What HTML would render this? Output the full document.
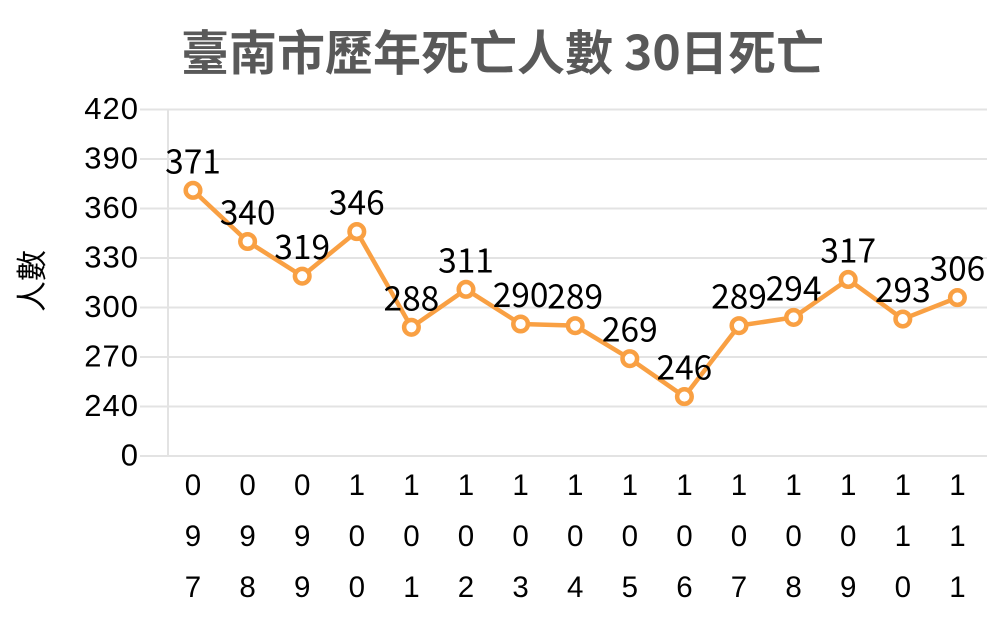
<!DOCTYPE html>
<html><head><meta charset="utf-8"><style>
html,body{margin:0;padding:0;background:#fff;}
svg{display:block;}
</style></head><body>
<svg width="1001" height="626" viewBox="0 0 1001 626" xmlns="http://www.w3.org/2000/svg">
<rect width="1001" height="626" fill="#fff"/>
<!-- title -->
<text y="70" font-family="'Noto Sans CJK TC',sans-serif" font-weight="bold" fill="#595959" font-size="48"><tspan x="181">臺南市歷年死亡人數</tspan><tspan x="624">30</tspan><tspan x="680">日死亡</tspan></text>
<!-- y axis title -->
<text transform="translate(43,281) rotate(-90)" text-anchor="middle" font-family="'Noto Sans CJK TC',sans-serif" font-size="31" fill="#000">人數</text>
<!-- gridlines -->
<g stroke="#e3e3e3" stroke-width="2">
<line x1="140" x2="987" y1="109.5" y2="109.5"/>
<line x1="140" x2="987" y1="159" y2="159"/>
<line x1="140" x2="987" y1="208.5" y2="208.5"/>
<line x1="140" x2="987" y1="258" y2="258"/>
<line x1="140" x2="987" y1="307.5" y2="307.5"/>
<line x1="140" x2="987" y1="357" y2="357"/>
<line x1="140" x2="987" y1="406.5" y2="406.5"/>
<line x1="140" x2="987" y1="456" y2="456"/>
<line x1="168" x2="168" y1="109" y2="457"/>
</g>
<!-- y tick labels -->
<g font-family="'Liberation Sans',sans-serif" font-size="31" fill="#000" text-anchor="end" letter-spacing="1">
<text x="139" y="119">420</text>
<text x="139" y="168.5">390</text>
<text x="139" y="218">360</text>
<text x="139" y="267.5">330</text>
<text x="139" y="317">300</text>
<text x="139" y="366.5">270</text>
<text x="139" y="416">240</text>
<text x="139" y="465.5">0</text>
</g>
<!-- x labels -->
<g font-family="'Liberation Sans',sans-serif" font-size="29.5" fill="#000" text-anchor="middle">
<text x="193" y="495">0</text><text x="193" y="546">9</text><text x="193" y="597">7</text>
<text x="247.6" y="495">0</text><text x="247.6" y="546">9</text><text x="247.6" y="597">8</text>
<text x="302.2" y="495">0</text><text x="302.2" y="546">9</text><text x="302.2" y="597">9</text>
<text x="356.8" y="495">1</text><text x="356.8" y="546">0</text><text x="356.8" y="597">0</text>
<text x="411.4" y="495">1</text><text x="411.4" y="546">0</text><text x="411.4" y="597">1</text>
<text x="466" y="495">1</text><text x="466" y="546">0</text><text x="466" y="597">2</text>
<text x="520.6" y="495">1</text><text x="520.6" y="546">0</text><text x="520.6" y="597">3</text>
<text x="575.2" y="495">1</text><text x="575.2" y="546">0</text><text x="575.2" y="597">4</text>
<text x="629.8" y="495">1</text><text x="629.8" y="546">0</text><text x="629.8" y="597">5</text>
<text x="684.4" y="495">1</text><text x="684.4" y="546">0</text><text x="684.4" y="597">6</text>
<text x="739" y="495">1</text><text x="739" y="546">0</text><text x="739" y="597">7</text>
<text x="793.6" y="495">1</text><text x="793.6" y="546">0</text><text x="793.6" y="597">8</text>
<text x="848.2" y="495">1</text><text x="848.2" y="546">0</text><text x="848.2" y="597">9</text>
<text x="902.8" y="495">1</text><text x="902.8" y="546">1</text><text x="902.8" y="597">0</text>
<text x="957.4" y="495">1</text><text x="957.4" y="546">1</text><text x="957.4" y="597">1</text>
</g>
<!-- series -->
<polyline fill="none" stroke="#F9A043" stroke-width="4.5" stroke-linejoin="round" points="193,190.35 247.6,241.5 302.2,276.15 356.8,231.6 411.4,327.3 466,289.35 520.6,324 575.2,325.65 629.8,358.65 684.4,396.6 739,325.65 793.6,317.4 848.2,279.45 902.8,319.05 957.4,297.6"/>
<g fill="#fff" stroke="#F9A043" stroke-width="4.5">
<circle cx="193" cy="190.35" r="7.3"/>
<circle cx="247.6" cy="241.5" r="7.3"/>
<circle cx="302.2" cy="276.15" r="7.3"/>
<circle cx="356.8" cy="231.6" r="7.3"/>
<circle cx="411.4" cy="327.3" r="7.3"/>
<circle cx="466" cy="289.35" r="7.3"/>
<circle cx="520.6" cy="324" r="7.3"/>
<circle cx="575.2" cy="325.65" r="7.3"/>
<circle cx="629.8" cy="358.65" r="7.3"/>
<circle cx="684.4" cy="396.6" r="7.3"/>
<circle cx="739" cy="325.65" r="7.3"/>
<circle cx="793.6" cy="317.4" r="7.3"/>
<circle cx="848.2" cy="279.45" r="7.3"/>
<circle cx="902.8" cy="319.05" r="7.3"/>
<circle cx="957.4" cy="297.6" r="7.3"/>
</g>
<!-- data labels -->
<g font-family="'Noto Sans CJK TC',sans-serif" font-size="33.5" fill="#000" text-anchor="middle">
<text x="193" y="173.3">371</text>
<text x="247.6" y="224.5">340</text>
<text x="302.2" y="259.2">319</text>
<text x="356.8" y="214.6">346</text>
<text x="411.4" y="310.3">288</text>
<text x="466" y="272.4">311</text>
<text x="520.6" y="307">290</text>
<text x="575.2" y="308.7">289</text>
<text x="629.8" y="341.7">269</text>
<text x="684.4" y="379.6">246</text>
<text x="739" y="308.7">289</text>
<text x="793.6" y="300.4">294</text>
<text x="848.2" y="262.5">317</text>
<text x="902.8" y="302">293</text>
<text x="957.4" y="280.6">306</text>
</g>
</svg>
</body></html>
